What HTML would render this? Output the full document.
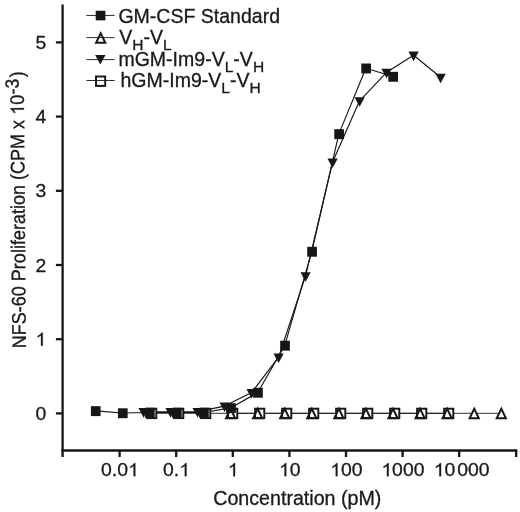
<!DOCTYPE html><html><head><meta charset="utf-8"><style>
html,body{margin:0;padding:0;background:#fff;}svg{display:block;will-change:transform;}text{font-family:"Liberation Sans",sans-serif;fill:#1a1a1a;stroke:#1a1a1a;stroke-width:0.3px;}.o{fill:none;stroke:none;}
</style></head><body>
<svg width="520" height="512" viewBox="0 0 520 512">
<rect width="520" height="512" fill="#fff"/>
<g stroke="#161616" stroke-width="2.3" fill="none" stroke-linecap="butt">
<path d="M62.6 4.4V457"/>
<path d="M61.45 450.5H517.3"/>
<path d="M55.9 413.40H62"/>
<path d="M55.9 339.20H62"/>
<path d="M55.9 265.00H62"/>
<path d="M55.9 190.80H62"/>
<path d="M55.9 116.60H62"/>
<path d="M55.9 42.40H62"/>
<path d="M119.60 450V457"/>
<path d="M176.20 450V457"/>
<path d="M232.80 450V457"/>
<path d="M289.40 450V457"/>
<path d="M346.00 450V457"/>
<path d="M402.60 450V457"/>
<path d="M459.20 450V457"/>
<path d="M516.15 450V457"/>
</g>
<g transform="translate(46.2,419.90) scale(1.02,1)"><text font-size="19.0" text-anchor="end">0</text></g>
<g transform="translate(46.2,345.70) scale(1.02,1)"><text font-size="19.0" text-anchor="end"><tspan class="o">1</tspan></text><path fill="#1a1a1a" stroke="#1a1a1a" stroke-width="32" transform="translate(-10.57,0.00) scale(0.009277,-0.008880) translate(10,0)" d="M763 0H583V1147Q518 1085 412.5 1023T223 930V1104Q373 1174.5 485 1275T647 1472H763Z"/></g>
<g transform="translate(46.2,271.50) scale(1.02,1)"><text font-size="19.0" text-anchor="end">2</text></g>
<g transform="translate(46.2,197.30) scale(1.02,1)"><text font-size="19.0" text-anchor="end">3</text></g>
<g transform="translate(46.2,123.10) scale(1.02,1)"><text font-size="19.0" text-anchor="end">4</text></g>
<g transform="translate(46.2,48.90) scale(1.02,1)"><text font-size="19.0" text-anchor="end">5</text></g>
<g transform="translate(119.90,476.2) scale(1.02,1)"><text font-size="19.0" text-anchor="middle">0.0<tspan class="o">1</tspan></text><path fill="#1a1a1a" stroke="#1a1a1a" stroke-width="32" transform="translate(7.93,0.00) scale(0.009277,-0.008880) translate(10,0)" d="M763 0H583V1147Q518 1085 412.5 1023T223 930V1104Q373 1174.5 485 1275T647 1472H763Z"/></g>
<g transform="translate(176.50,476.2) scale(1.02,1)"><text font-size="19.0" text-anchor="middle">0.<tspan class="o">1</tspan></text><path fill="#1a1a1a" stroke="#1a1a1a" stroke-width="32" transform="translate(2.65,0.00) scale(0.009277,-0.008880) translate(10,0)" d="M763 0H583V1147Q518 1085 412.5 1023T223 930V1104Q373 1174.5 485 1275T647 1472H763Z"/></g>
<g transform="translate(233.10,476.2) scale(1.02,1)"><text font-size="19.0" text-anchor="middle"><tspan class="o">1</tspan></text><path fill="#1a1a1a" stroke="#1a1a1a" stroke-width="32" transform="translate(-5.28,0.00) scale(0.009277,-0.008880) translate(10,0)" d="M763 0H583V1147Q518 1085 412.5 1023T223 930V1104Q373 1174.5 485 1275T647 1472H763Z"/></g>
<g transform="translate(289.70,476.2) scale(1.02,1)"><text font-size="19.0" text-anchor="middle"><tspan class="o">1</tspan>0</text><path fill="#1a1a1a" stroke="#1a1a1a" stroke-width="32" transform="translate(-10.57,0.00) scale(0.009277,-0.008880) translate(10,0)" d="M763 0H583V1147Q518 1085 412.5 1023T223 930V1104Q373 1174.5 485 1275T647 1472H763Z"/></g>
<g transform="translate(346.30,476.2) scale(1.02,1)"><text font-size="19.0" text-anchor="middle"><tspan class="o">1</tspan>00</text><path fill="#1a1a1a" stroke="#1a1a1a" stroke-width="32" transform="translate(-15.85,0.00) scale(0.009277,-0.008880) translate(10,0)" d="M763 0H583V1147Q518 1085 412.5 1023T223 930V1104Q373 1174.5 485 1275T647 1472H763Z"/></g>
<g transform="translate(402.90,476.2) scale(1.02,1)"><text font-size="19.0" text-anchor="middle"><tspan class="o">1</tspan>000</text><path fill="#1a1a1a" stroke="#1a1a1a" stroke-width="32" transform="translate(-21.13,0.00) scale(0.009277,-0.008880) translate(10,0)" d="M763 0H583V1147Q518 1085 412.5 1023T223 930V1104Q373 1174.5 485 1275T647 1472H763Z"/></g>
<g transform="translate(461.60,476.2) scale(1.02,1)"><text font-size="19.0" text-anchor="middle"><tspan class="o">1</tspan>0<tspan dx="1.8">000</tspan></text><path fill="#1a1a1a" stroke="#1a1a1a" stroke-width="32" transform="translate(-27.31,0.00) scale(0.009277,-0.008880) translate(10,0)" d="M763 0H583V1147Q518 1085 412.5 1023T223 930V1104Q373 1174.5 485 1275T647 1472H763Z"/></g>
<g transform="translate(213.2,505) scale(1.019,1)"><text font-size="19.3">Concentration (pM)</text></g>
<g transform="translate(25.9,348.3) scale(1.09,1) rotate(-90.42)"><text font-size="18.05">NFS-60 Proliferation (CPM x <tspan class="o">1</tspan>0<tspan dy="-4.6" dx="0.5" font-size="17.6">-3</tspan><tspan dy="4.6" dx="1.3">)</tspan></text><path fill="#1a1a1a" stroke="#1a1a1a" stroke-width="34" transform="translate(233.46,0.00) scale(0.008813,-0.008436) translate(10,0)" d="M763 0H583V1147Q518 1085 412.5 1023T223 930V1104Q373 1174.5 485 1275T647 1472H763Z"/></g>
<g fill="none" stroke="#161616" stroke-width="0.9" stroke-linejoin="round">
<polyline stroke-width="1.15" points="95.50,410.90 122.54,413.00 149.58,412.51 176.62,412.51 203.66,412.51 230.70,407.91 257.74,392.48 284.78,345.43 311.82,251.50 338.86,133.89 365.90,68.22 392.94,76.53"/>
<polyline stroke-width="1.15" points="143.60,411.70 170.60,411.70 197.60,411.60 224.60,406.10 251.60,392.60 278.60,357.10 305.60,275.80 332.60,162.00 359.60,100.80 386.60,72.30 413.60,55.20 440.60,77.30"/>
<path d="M151.6 413.3H448.6"/>
<path d="M230.6 413.3H503.79999999999995"/>
</g>
<g fill="#fff" stroke="none">
<path d="M230.60 408.80L235.20 418.20H226.00Z"/>
<path d="M257.67 408.80L262.27 418.20H253.07Z"/>
<path d="M284.74 408.80L289.34 418.20H280.14Z"/>
<path d="M311.81 408.80L316.41 418.20H307.21Z"/>
<path d="M338.88 408.80L343.48 418.20H334.28Z"/>
<path d="M365.95 408.80L370.55 418.20H361.35Z"/>
<path d="M393.02 408.80L397.62 418.20H388.42Z"/>
<path d="M420.09 408.80L424.69 418.20H415.49Z"/>
<path d="M447.16 408.80L451.76 418.20H442.56Z"/>
<path d="M474.23 408.80L478.83 418.20H469.63Z"/>
<path d="M501.30 408.80L505.90 418.20H496.70Z"/>
<rect x="147.10" y="408.70" width="9.2" height="9.4"/>
<rect x="174.10" y="408.70" width="9.2" height="9.4"/>
<rect x="201.10" y="408.70" width="9.2" height="9.4"/>
<rect x="228.10" y="408.70" width="9.2" height="9.4"/>
<rect x="255.10" y="408.70" width="9.2" height="9.4"/>
<rect x="282.10" y="408.70" width="9.2" height="9.4"/>
<rect x="309.10" y="408.70" width="9.2" height="9.4"/>
<rect x="336.10" y="408.70" width="9.2" height="9.4"/>
<rect x="363.10" y="408.70" width="9.2" height="9.4"/>
<rect x="390.10" y="408.70" width="9.2" height="9.4"/>
<rect x="417.10" y="408.70" width="9.2" height="9.4"/>
<rect x="444.10" y="408.70" width="9.2" height="9.4"/>
</g>
<g fill="none" stroke="#161616" stroke-width="1.95" stroke-linejoin="miter">
<path d="M230.60 408.80L235.20 418.20H226.00Z"/>
<path d="M257.67 408.80L262.27 418.20H253.07Z"/>
<path d="M284.74 408.80L289.34 418.20H280.14Z"/>
<path d="M311.81 408.80L316.41 418.20H307.21Z"/>
<path d="M338.88 408.80L343.48 418.20H334.28Z"/>
<path d="M365.95 408.80L370.55 418.20H361.35Z"/>
<path d="M393.02 408.80L397.62 418.20H388.42Z"/>
<path d="M420.09 408.80L424.69 418.20H415.49Z"/>
<path d="M447.16 408.80L451.76 418.20H442.56Z"/>
<path d="M474.23 408.80L478.83 418.20H469.63Z"/>
<path d="M501.30 408.80L505.90 418.20H496.70Z"/>
<rect x="147.10" y="408.70" width="9.2" height="9.4"/>
<rect x="174.10" y="408.70" width="9.2" height="9.4"/>
<rect x="201.10" y="408.70" width="9.2" height="9.4"/>
<rect x="228.10" y="408.70" width="9.2" height="9.4"/>
<rect x="255.10" y="408.70" width="9.2" height="9.4"/>
<rect x="282.10" y="408.70" width="9.2" height="9.4"/>
<rect x="309.10" y="408.70" width="9.2" height="9.4"/>
<rect x="336.10" y="408.70" width="9.2" height="9.4"/>
<rect x="363.10" y="408.70" width="9.2" height="9.4"/>
<rect x="390.10" y="408.70" width="9.2" height="9.4"/>
<rect x="417.10" y="408.70" width="9.2" height="9.4"/>
<rect x="444.10" y="408.70" width="9.2" height="9.4"/>
</g>
<g fill="#161616">
<rect x="90.90" y="406.20" width="9.7" height="9.9"/>
<rect x="117.94" y="408.30" width="9.7" height="9.9"/>
<rect x="144.98" y="407.81" width="9.7" height="9.9"/>
<rect x="172.02" y="407.81" width="9.7" height="9.9"/>
<rect x="199.06" y="407.81" width="9.7" height="9.9"/>
<rect x="226.10" y="403.21" width="9.7" height="9.9"/>
<rect x="253.14" y="387.78" width="9.7" height="9.9"/>
<rect x="280.18" y="340.73" width="9.7" height="9.9"/>
<rect x="307.22" y="246.80" width="9.7" height="9.9"/>
<rect x="334.26" y="129.19" width="9.7" height="9.9"/>
<rect x="361.30" y="63.52" width="9.7" height="9.9"/>
<rect x="388.34" y="71.83" width="9.7" height="9.9"/>
<path d="M138.45 408.10H148.75L143.60 417.70Z"/>
<path d="M165.45 408.10H175.75L170.60 417.70Z"/>
<path d="M192.45 408.00H202.75L197.60 417.60Z"/>
<path d="M219.45 402.50H229.75L224.60 412.10Z"/>
<path d="M246.45 389.00H256.75L251.60 398.60Z"/>
<path d="M273.45 353.50H283.75L278.60 363.10Z"/>
<path d="M300.45 272.20H310.75L305.60 281.80Z"/>
<path d="M327.45 158.40H337.75L332.60 168.00Z"/>
<path d="M354.45 97.20H364.75L359.60 106.80Z"/>
<path d="M381.45 68.70H391.75L386.60 78.30Z"/>
<path d="M408.45 51.60H418.75L413.60 61.20Z"/>
<path d="M435.45 73.70H445.75L440.60 83.30Z"/>
</g>
<g stroke="#161616" stroke-width="0.9" fill="none">
<path d="M86.4 15.45H114.6"/>
<path d="M86.4 37.6H114.6"/>
<path d="M86.4 59.6H114.6"/>
<path d="M86.4 80.5H114.6"/>
</g>
<rect x="95.7" y="10.75" width="9.7" height="9.6" fill="#161616"/>
<path d="M100.70 33.30L105.30 42.70H96.10Z" fill="none" stroke="#161616" stroke-width="1.95"/>
<path d="M95.14999999999999 55.0H105.45L100.3 64.6Z" fill="#161616"/>
<rect x="96.00" y="76.50" width="9.2" height="9.4" fill="none" stroke="#161616" stroke-width="1.95"/>
<g transform="translate(118.4,22.6) scale(1.012,1)"><text font-size="19.3">GM-CSF Standard</text></g>
<g transform="translate(119.2,43.6) scale(1.012,1)"><text font-size="19.3">V<tspan dy="6.2" font-size="15.4">H</tspan><tspan dy="-6.2">-V</tspan><tspan dy="6.2" font-size="15.4">L</tspan></text></g>
<g transform="translate(118.4,66.3) scale(1.012,1)"><text font-size="19.3">mGM-Im9-V<tspan dy="5.7" font-size="15.4">L</tspan><tspan dy="-5.7">-V</tspan><tspan dy="5.7" font-size="15.4">H</tspan></text></g>
<g transform="translate(120.4,87.0) scale(1.012,1)"><text font-size="19.3">hGM-Im9-V<tspan dy="6.2" font-size="15.4">L</tspan><tspan dy="-6.2">-V</tspan><tspan dy="6.2" font-size="15.4">H</tspan></text></g>
</svg></body></html>
